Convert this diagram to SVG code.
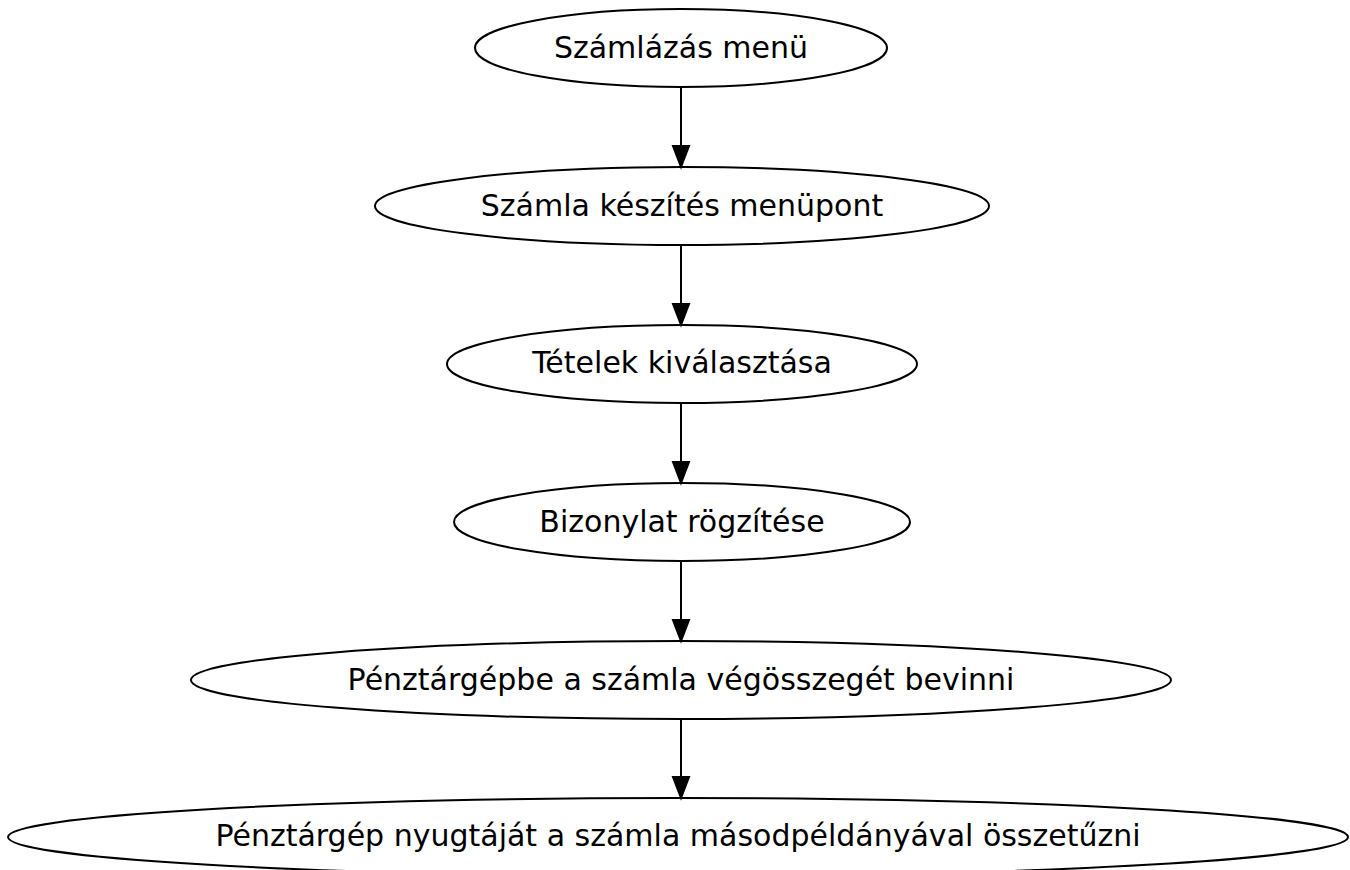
<svg xmlns="http://www.w3.org/2000/svg" width="1350" height="870" viewBox="0 0 1350 870">
<defs>
<style>
.node ellipse{fill:none;stroke:#000;stroke-width:2}
.node text{font-family:"DejaVu Sans",sans-serif;font-size:30px;text-anchor:middle;fill:#000}
.edge line{stroke:#000;stroke-width:2}
.edge polygon{fill:#000;stroke:#000;stroke-width:2}
</style>
</defs>
<rect width="1350" height="870" fill="#fff"/>
<g id="connectors" class="edge">
<line x1="681" y1="87" x2="681" y2="146"/><polygon points="673,146 689,146 681,167"/>
<line x1="681" y1="245" x2="681" y2="304"/><polygon points="673,304 689,304 681,325"/>
<line x1="681" y1="403" x2="681" y2="462"/><polygon points="673,462 689,462 681,483"/>
<line x1="681" y1="561" x2="681" y2="620"/><polygon points="673,620 689,620 681,641"/>
<line x1="681" y1="719" x2="681" y2="777"/><polygon points="673,777 689,777 681,798"/>
</g>
<g id="n1" class="node"><ellipse cx="681" cy="48" rx="206" ry="39"/><text x="681" y="58">Számlázás menü</text></g>
<g id="n2" class="node"><ellipse cx="682" cy="206" rx="307" ry="39"/><text x="682" y="216">Számla készítés menüpont</text></g>
<g id="n3" class="node"><ellipse cx="682" cy="364" rx="235" ry="39"/><text x="682" y="373">Tételek kiválasztása</text></g>
<g id="n4" class="node"><ellipse cx="682" cy="522" rx="228" ry="39"/><text x="682" y="532">Bizonylat rögzítése</text></g>
<g id="n5" class="node"><ellipse cx="681" cy="680" rx="490" ry="39"/><text x="681" y="690">Pénztárgépbe a számla végösszegét bevinni</text></g>
<g id="n6" class="node"><ellipse cx="678" cy="837" rx="670" ry="39"/><text x="678" y="846">Pénztárgép nyugtáját a számla másodpéldányával összetűzni</text></g>
</svg>
